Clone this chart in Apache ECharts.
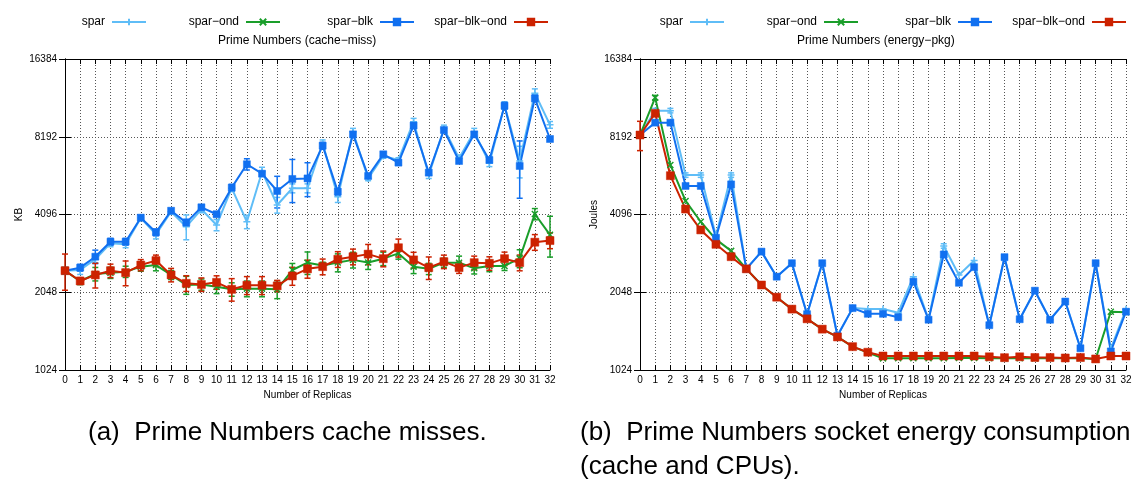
<!DOCTYPE html>
<html><head><meta charset="utf-8">
<script src="https://cdn.jsdelivr.net/npm/echarts@6/dist/echarts.min.js"></script>
<style>html,body{margin:0;padding:0;background:#fff}#c{width:1148px;height:482px}</style>
</head><body><div id="c"></div>
<script>
const replicas = Array.from({length:33},(_,i)=>i);
const seriesNames = ['spar','spar\u2212ond','spar\u2212blk','spar\u2212blk\u2212ond'];
const yTicks = [1024,2048,4096,8192,16384];

// (a) cache misses (KB)
const cacheSpar   = [2482,2500,2748,3168,3140,3970,3432,4200,3674,4290,3730,5180,3840,6000,4458,5175,5175,7730,4800,8570,5650,6900,6660,9370,5820,8820,6760,8570,6470,10850,6600,12070,9110];
const cacheOnd    = [2482,2260,2410,2438,2460,2573,2610,2390,2185,2195,2152,2102,2115,2115,2102,2497,2666,2598,2670,2733,2670,2763,2895,2573,2523,2666,2666,2537,2590,2590,2770,4113,3417];
const cacheBlk    = [2482,2550,2812,3214,3214,3982,3494,4236,3809,4368,4106,5203,6411,5895,5050,5623,5650,7565,5020,8370,5775,7005,6504,9052,5948,8700,6600,8370,6660,10800,6313,11540,8030];
const cacheBlkOnd = [2482,2265,2390,2482,2438,2610,2716,2390,2218,2195,2237,2102,2180,2180,2168,2368,2523,2573,2748,2812,2877,2763,3046,2733,2550,2690,2550,2666,2650,2763,2666,3200,3247];
// relative error (%)
const cacheSparErr   = [2,4,3,3,3,2,4,2,11,3,5,3,6,4,7,4,4,3,5,3,2,2,2,3,3,3,3,3,3,3,14,4,3];
const cacheOndErr    = [3,3,6,5,5,4,5,4,8,5,6,6,7,7,8,6,10,3,8,7,6,6,5,6,5,4,6,5,5,4,8,5,18];
const cacheBlkErr    = [2,3,6,3,3,2,3,2,3,2,2,3,5,2,14,19,15,3,3,2,2,2,2,2,2,2,2,2,2,3,25,3,2];
const cacheBlkOndErr = [16,3,11,6,11,5,5,6,7,6,6,10,8,8,5,8,8,7,7,7,9,7,8,7,10,6,5,6,6,6,7,7,7];

// (b) energy (Joules)
const energySpar   = [8320,10340,10340,5820,5820,3380,5820,2523,2942,2353,2653,1684,2653,1389,1778,1762,1765,1707,2353,1610,3094,2390,2716,1527,2800,1610,2077,1603,1885,1243,2653,1240,1760];
const energyOnd    = [8320,11610,6370,4622,3840,3280,2961,2523,2185,1960,1762,1616,1474,1375,1261,1195,1136,1138,1138,1138,1138,1140,1140,1138,1136,1138,1136,1138,1136,1138,1130,1722,1715];
const energyBlk    = [8320,9290,9290,5283,5283,3332,5357,2523,2942,2353,2653,1684,2653,1389,1778,1690,1690,1640,2250,1603,2869,2228,2562,1527,2800,1610,2077,1603,1885,1243,2653,1208,1722];
const energyBlkOnd = [8320,10095,5790,4300,3570,3140,2812,2523,2185,1960,1762,1616,1474,1375,1261,1200,1160,1160,1160,1160,1160,1160,1160,1152,1143,1152,1145,1145,1140,1145,1130,1160,1160];
const energySparErr   = [2,2,2,2,2,0,2,0,0,0,0,0,0,0,0,0,0,0,0,0,2,0,0,0,0,0,0,0,0,0,0,0,0];
const energyOndErr    = [2,2,0,0,0,0,0,0,0,0,0,0,0,0,0,0,0,0,0,0,0,0,0,0,0,0,0,0,0,0,0,0,0];
const energyBlkErr    = [2,0,0,0,0,0,0,0,0,0,0,0,0,0,0,0,0,0,0,0,0,0,0,0,0,0,0,0,0,0,0,0,0];
const energyBlkOndErr = [13,0,0,0,0,0,0,0,0,0,0,0,0,0,0,0,0,0,0,0,0,0,0,0,0,0,0,0,0,0,0,0,0];

const colors = ['#5fbdf7','#1a9e2a','#1170f0','#cc2200'];
const symbols = ['path://M0,5L10,5M5,0L5,10','path://M0,0L10,10M10,0L0,10','rect','rect'];
const symSizes = [7,6,7,8];
const FONT = 'Liberation Sans, Arial, sans-serif';

const chart = echarts.init(document.getElementById('c'), null, {renderer:'canvas'});

const grids = [
  {left:65, right:598, top:59, bottom:112},
  {left:640, right:22, top:59, bottom:112}
];

function axesFor(gi, yName){
  const xs = [{
    type:'value', gridIndex:gi, min:0, max:32, interval:1,
    name:'Number of Replicas', nameLocation:'middle', nameGap:19,
    nameTextStyle:{fontFamily:FONT,fontSize:10,color:'#000'},
    axisLine:{show:true,lineStyle:{color:'#000',width:1}},
    axisTick:{show:true,inside:true,length:5,lineStyle:{color:'#000'}},
    axisLabel:{fontFamily:FONT,fontSize:10,color:'#000',margin:5,hideOverlap:false,showMinLabel:true,showMaxLabel:true},
    splitLine:{show:true,lineStyle:{color:'#555',type:[1,2],width:1}}
  },{
    type:'value', gridIndex:gi, position:'top', min:0, max:32, interval:1,
    axisLine:{show:true,lineStyle:{color:'#000',width:1}},
    axisTick:{show:true,inside:true,length:5,lineStyle:{color:'#000'}},
    axisLabel:{show:false}, splitLine:{show:false}
  }];
  const ys = [{
    type:'log', logBase:2, gridIndex:gi, min:yTicks[0], max:yTicks[yTicks.length-1],
    name:yName, nameLocation:'middle', nameGap:41, nameRotate:90,
    nameTextStyle:{fontFamily:FONT,fontSize:10,color:'#000'},
    axisLine:{show:true,lineStyle:{color:'#000',width:1}},
    axisTick:{show:true,inside:true,length:6,lineStyle:{color:'#000'}},
    axisLabel:{fontFamily:FONT,fontSize:10,color:'#000',margin:8,formatter:v=>String(Math.round(v))},
    splitLine:{show:true,lineStyle:{color:'#555',type:[1,2],width:1}}
  },{
    type:'log', logBase:2, gridIndex:gi, position:'right', min:yTicks[0], max:yTicks[yTicks.length-1],
    axisLine:{show:true,lineStyle:{color:'#000',width:1}},
    axisTick:{show:true,inside:true,length:6,lineStyle:{color:'#000'}},
    axisLabel:{show:false}, splitLine:{show:false}
  }];
  return {xs, ys};
}

const a0 = axesFor(0,'KB'), a1 = axesFor(1,'Joules');
const xAxis = [...a0.xs, ...a1.xs];   // 0,1 grid0 ; 2,3 grid1
const yAxis = [...a0.ys, ...a1.ys];

function errSeries(vals, errs, color, xi, yi){
  const data = vals.map((v,i)=>[replicas[i], v*(1-errs[i]/100), v*(1+errs[i]/100), errs[i]]);
  return {
    type:'custom', xAxisIndex:xi, yAxisIndex:yi, silent:true, z:2,
    data: data,
    encode:{x:0,y:[1,2]},
    renderItem:function(params, api){
      if (api.value(3) <= 0) return null;
      const lo = api.coord([api.value(0), api.value(1)]);
      const hi = api.coord([api.value(0), api.value(2)]);
      const w = 3;
      const st = {stroke:color, lineWidth:1.5};
      return {type:'group', children:[
        {type:'line', shape:{x1:lo[0],y1:lo[1],x2:hi[0],y2:hi[1]}, style:st},
        {type:'line', shape:{x1:lo[0]-w,y1:lo[1],x2:lo[0]+w,y2:lo[1]}, style:st},
        {type:'line', shape:{x1:hi[0]-w,y1:hi[1],x2:hi[0]+w,y2:hi[1]}, style:st}
      ]};
    }
  };
}

function lineSeries(name, vals, k, xi, yi){
  return {
    name:name, type:'line', xAxisIndex:xi, yAxisIndex:yi, z:3,
    data: vals.map((v,i)=>[replicas[i], v]),
    symbol:symbols[k], symbolSize:symSizes[k], showSymbol:true,
    lineStyle:{color:colors[k], width:2},
    itemStyle:{color:colors[k], borderColor:colors[k], borderWidth: (k<2?1.5:0.5)},
    emphasis:{disabled:true}, animation:false
  };
}

const cacheVals = [cacheSpar, cacheOnd, cacheBlk, cacheBlkOnd];
const cacheErrs = [cacheSparErr, cacheOndErr, cacheBlkErr, cacheBlkOndErr];
const energyVals = [energySpar, energyOnd, energyBlk, energyBlkOnd];
const energyErrs = [energySparErr, energyOndErr, energyBlkErr, energyBlkOndErr];

const series = [];
for (let k=0;k<4;k++){
  series.push(errSeries(cacheVals[k], cacheErrs[k], colors[k], 0, 0));
  series.push(lineSeries(seriesNames[k], cacheVals[k], k, 0, 0));
}
for (let k=0;k<4;k++){
  series.push(errSeries(energyVals[k], energyErrs[k], colors[k], 2, 2));
  series.push(lineSeries(seriesNames[k], energyVals[k], k, 2, 2));
}

// legends: one per item, right-aligned icon
const legendEnds = [[147,281,415,549],[725,859,993,1127]];
const legends = [];
legendEnds.forEach(ends=>{
  ends.forEach((e,k)=>{
    legends.push({
      data:[seriesNames[k]], right:1148-e, top:16, align:'right', orient:'horizontal',
      itemWidth:34, itemHeight:8, itemGap:0, selectedMode:false,
      textStyle:{fontFamily:FONT,fontSize:12,color:'#000',padding:[0,2,0,0]},
      padding:0
    });
  });
});

chart.setOption({
  backgroundColor:'#fff',
  animation:false,
  grid: grids,
  xAxis: xAxis,
  yAxis: yAxis,
  legend: legends,
  series: series,
  graphic:[
    {type:'text', left:218, top:35, style:{text:'Prime Numbers (cache\u2212miss)', font:'12px '+FONT, fill:'#000'}},
    {type:'text', left:797, top:35, style:{text:'Prime Numbers (energy\u2212pkg)', font:'12px '+FONT, fill:'#000'}},
    {type:'text', left:88, top:420, style:{text:'(a)  Prime Numbers cache misses.', font:'26px '+FONT, fill:'#000'}},
    {type:'text', left:580, top:420, style:{text:'(b)  Prime Numbers socket energy consumption', font:'26px '+FONT, fill:'#000'}},
    {type:'text', left:580, top:454, style:{text:'(cache and CPUs).', font:'26px '+FONT, fill:'#000'}}
  ]
});
</script></body></html>
